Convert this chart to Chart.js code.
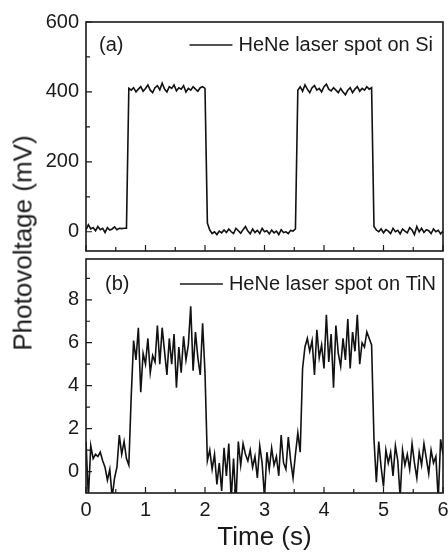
<!DOCTYPE html>
<html>
<head>
<meta charset="utf-8">
<script src="https://cdn.jsdelivr.net/npm/chart.js@4.4.1/dist/chart.umd.min.js"></script>
<style>
    html, body { margin: 0; padding: 0; background: #fff; }
    body { width: 448px; height: 553px; overflow: hidden; position: relative; }
    canvas { position: absolute; left: 0; }
    #topChart { top: 0; }
    #bottomChart { top: 240px; }
    #ylabel {
        position: absolute; left: 23px; top: 243px;
        transform: translate(-50%, -50%) rotate(-90deg);
        font: 26px "Liberation Sans", Arial, sans-serif; color: #1a1a1a;
        white-space: nowrap;
    }
</style>
</head>
<body>
<canvas id="topChart" width="455" height="270"></canvas>
<canvas id="bottomChart" width="455" height="313"></canvas>
<div id="ylabel">Photovoltage (mV)</div>
<script>
// time axis (s)
const time = [
    0.00, 0.04, 0.08, 0.12, 0.16, 0.20, 0.24, 0.28, 0.32, 0.36,
    0.40, 0.44, 0.48, 0.52, 0.56, 0.60, 0.64, 0.68, 0.72, 0.76,
    0.80, 0.84, 0.88, 0.92, 0.96, 1.00, 1.04, 1.08, 1.12, 1.16,
    1.20, 1.24, 1.28, 1.32, 1.36, 1.40, 1.44, 1.48, 1.52, 1.56,
    1.60, 1.64, 1.68, 1.72, 1.76, 1.80, 1.84, 1.88, 1.92, 1.96,
    2.00, 2.04, 2.08, 2.12, 2.16, 2.20, 2.24, 2.28, 2.32, 2.36,
    2.40, 2.44, 2.48, 2.52, 2.56, 2.60, 2.64, 2.68, 2.72, 2.76,
    2.80, 2.84, 2.88, 2.92, 2.96, 3.00, 3.04, 3.08, 3.12, 3.16,
    3.20, 3.24, 3.28, 3.32, 3.36, 3.40, 3.44, 3.48, 3.52, 3.56,
    3.60, 3.64, 3.68, 3.72, 3.76, 3.80, 3.84, 3.88, 3.92, 3.96,
    4.00, 4.04, 4.08, 4.12, 4.16, 4.20, 4.24, 4.28, 4.32, 4.36,
    4.40, 4.44, 4.48, 4.52, 4.56, 4.60, 4.64, 4.68, 4.72, 4.76,
    4.80, 4.84, 4.88, 4.92, 4.96, 5.00, 5.04, 5.08, 5.12, 5.16,
    5.20, 5.24, 5.28, 5.32, 5.36, 5.40, 5.44, 5.48, 5.52, 5.56,
    5.60, 5.64, 5.68, 5.72, 5.76, 5.80, 5.84, 5.88, 5.92, 5.96,
    6.00
];

// (a) HeNe laser spot on Si, mV
const siSignal = [
    5, 20, 8, 12, 3, 15, 6, 10, -2, 12,
    5, 8, 14, 6, 10, 9, 10, 10, 410, 405,
    412, 400, 408, 415, 402, 410, 420, 405, 398, 412,
    418, 406, 425, 408, 400, 415, 410, 420, 403, 412,
    408, 418, 400, 410, 405, 415, 408, 402, 412, 415,
    410, 25, 5, -5, 0, -8, 2, -3, 5, -2,
    8, 0, -5, 10, 3, -4, 6, 15, 2, -6,
    8, -2, 4, -5, 10, 0, 3, -6, 5, -3,
    2, -8, 6, -2, 0, -5, 4, 2, 8, 405,
    415, 402, 420, 408, 398, 412, 418, 405, 410, 400,
    415, 422, 408, 403, 412, 405, 398, 410, 400, 392,
    405, 412, 398, 408, 415, 402, 410, 405, 415, 408,
    412, 15, 5, 0, 8, -3, 6, 2, -5, 10,
    0, 4, -6, 8, 2, -3, 12, 5, -8, 15,
    0, 10, -2, 6, 3, -5, 8, 0, 4, -6,
    2
];

// (b) HeNe laser spot on TiN, mV
const tinSignal = [
    1.4, -1.2, 1.2, 0.6, 0.8, 0.7, 0.9, 0.5, 0.2, -0.4,
    0.1, -1.2, -0.3, 0.2, 1.7, 0.8, 1.4, 0.6, 0.3, 3.5,
    6.1, 5.2, 6.7, 3.7, 5.5, 5.0, 6.2, 4.6, 5.4, 5.1,
    6.8, 5.0, 6.7, 5.6, 4.5, 6.2, 5.0, 6.4, 3.9, 5.8,
    4.6, 6.3, 5.2, 5.9, 7.7, 4.7, 6.5, 5.3, 4.5, 6.9,
    4.6, 0.5, 1.0, 0.1, 0.8, -0.6, 0.4, -0.9, 1.1, -0.2,
    1.3, -1.3, 0.6, -1.5, 1.4, 0.3, 1.3, 0.8, 0.5, 1.0,
    0.2, 0.7, -0.3, 1.2, 0.4, -1.2, 0.9, 0.1, 1.1, 0.3,
    0.7, -0.2, 1.7, 0.4, 0.1, 1.6, 0.5, -0.3, 0.8, 1.8,
    0.9, 4.8, 5.8, 6.2, 5.6, 6.1, 4.5, 6.6, 5.3, 5.9,
    4.8, 7.3, 5.1, 6.4, 3.9, 6.8, 5.5, 4.9, 6.2, 5.2,
    7.1, 4.8, 6.5, 5.6, 7.3, 5.0, 6.0, 5.8, 6.5, 6.2,
    5.9, 1.5, -0.5, 1.4, 0.2, -0.7, 1.0, 0.4, 0.9, -0.2,
    1.2, 0.5, -1.2, 1.0, 0.3, 0.8, 0.1, 1.3, 0.4, -0.3,
    0.9, 0.3, 1.3, 0.6, -0.1, 1.0, 0.4, 0.7, -1.3, 1.5,
    0.8
];

// tick values
const timeTicks = [0, 1, 2, 3, 4, 5, 6];
const timeMinor = [0.5, 1.5, 2.5, 3.5, 4.5, 5.5];
const siTicks = [0, 200, 400, 600];
const siMinor = [100, 300, 500];
const tinTicks = [0, 2, 4, 6, 8];
const tinMinor = [1, 3, 5, 7, 9];

const FONT = '"Liberation Sans", Arial, sans-serif';
const INK = '#1a1a1a';

// frame, inward ticks, panel tag and legend
const panelDecor = {
    id: 'panelDecor',
    afterDatasetsDraw(chart, args, opts) {
        const { ctx, chartArea: a, scales: { x, y } } = chart;
        ctx.save();
        ctx.strokeStyle = INK;
        ctx.lineWidth = 1.2;
        ctx.beginPath();
        opts.xMajor.forEach(v => { const p = x.getPixelForValue(v); ctx.moveTo(p, a.bottom); ctx.lineTo(p, a.bottom - 6); });
        opts.xMinor.forEach(v => { const p = x.getPixelForValue(v); ctx.moveTo(p, a.bottom); ctx.lineTo(p, a.bottom - 4); });
        opts.yMajor.forEach(v => { const p = y.getPixelForValue(v); ctx.moveTo(a.left, p); ctx.lineTo(a.left + 6, p); });
        opts.yMinor.forEach(v => { const p = y.getPixelForValue(v); ctx.moveTo(a.left, p); ctx.lineTo(a.left + 4, p); });
        ctx.stroke();

        ctx.lineWidth = 1.6;
        ctx.strokeRect(a.left, a.top, a.right - a.left, a.bottom - a.top);

        ctx.fillStyle = INK;
        ctx.font = '20px ' + FONT;
        ctx.textBaseline = 'middle';
        ctx.textAlign = 'left';
        ctx.fillText(opts.tag, a.left + opts.tagDx, a.top + opts.dy);
        const w = ctx.measureText(opts.legend).width;
        const tx = a.right - opts.legendRight - w;
        ctx.fillText(opts.legend, tx, a.top + opts.dy);
        ctx.lineWidth = 1.5;
        ctx.beginPath();
        ctx.moveTo(tx - 6 - 43, a.top + opts.dy);
        ctx.lineTo(tx - 6, a.top + opts.dy);
        ctx.stroke();
        ctx.restore();
    }
};

function makeChart(id, values, yMin, yMax, yTicks, yMinor, xLabels, deco, layoutPad, xHeight) {
    return new Chart(document.getElementById(id), {
        type: 'line',
        data: {
            datasets: [{
                data: time.map((t, i) => ({ x: t, y: values[i] })),
                borderColor: '#111',
                borderWidth: 1.6,
                pointRadius: 0,
                tension: 0,
                clip: 0
            }]
        },
        options: {
            responsive: false,
            animation: false,
            events: [],
            layout: { padding: layoutPad },
            scales: {
                x: {
                    type: 'linear',
                    min: 0,
                    max: 6,
                    afterBuildTicks: s => { s.ticks = timeTicks.map(v => ({ value: v })); },
                    afterFit: s => { s.height = xHeight; },
                    grid: { display: false, drawTicks: false },
                    border: { display: false },
                    ticks: {
                        display: xLabels,
                        padding: 5,
                        color: INK,
                        font: { family: FONT, size: 20 },
                        maxRotation: 0
                    },
                    title: {
                        display: xLabels,
                        text: 'Time (s)',
                        color: INK,
                        font: { family: FONT, size: 26 },
                        padding: { top: 2, bottom: 0 }
                    }
                },
                y: {
                    min: yMin,
                    max: yMax,
                    afterBuildTicks: s => { s.ticks = yTicks.map(v => ({ value: v })); },
                    afterFit: s => { s.width = 86; },
                    grid: { display: false, drawTicks: false },
                    border: { display: false },
                    ticks: {
                        padding: 7,
                        color: INK,
                        font: { family: FONT, size: 20 }
                    }
                }
            },
            plugins: {
                legend: { display: false },
                tooltip: { enabled: false },
                panelDecor: Object.assign({ xMajor: timeTicks, xMinor: timeMinor, yMajor: yTicks, yMinor: yMinor }, deco)
            }
        },
        plugins: [panelDecor]
    });
}

makeChart('topChart', siSignal, -55, 600, siTicks, siMinor, false,
    { tag: '(a)', tagDx: 13, dy: 23, legend: 'HeNe laser spot on Si', legendRight: 10 },
    { top: 22, right: 12, left: 0, bottom: 0 }, 13);

makeChart('bottomChart', tinSignal, -1, 9.9, tinTicks, tinMinor, true,
    { tag: '(b)', tagDx: 19, dy: 25, legend: 'HeNe laser spot on TiN', legendRight: 7 },
    { top: 17, right: 12, left: 0, bottom: 0 }, 60);
</script>
</body>
</html>
